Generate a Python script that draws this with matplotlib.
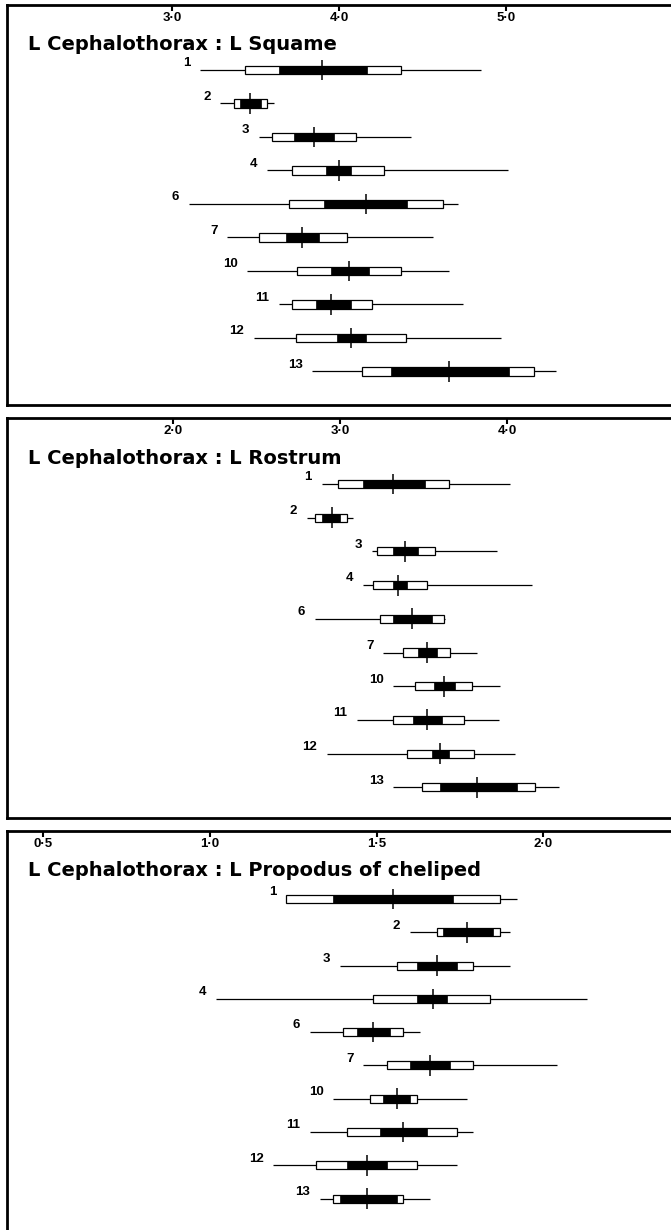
import matplotlib
matplotlib.use('Agg')
from matplotlib import pyplot as plt

# sample numbers (rows of each panel)
samples = ['1', '2', '3', '4', '6', '7', '10', '11', '12', '13']

# --- L Cephalothorax : L Squame ---
sq_lo     = [3.17, 3.29, 3.52, 3.57, 3.10, 3.33, 3.45, 3.64, 3.49, 3.84]
sq_box_lo = [3.44, 3.37, 3.60, 3.72, 3.70, 3.52, 3.75, 3.72, 3.74, 4.14]
sq_blk_lo = [3.64, 3.41, 3.73, 3.92, 3.91, 3.68, 3.95, 3.86, 3.99, 4.31]
sq_mean   = [3.90, 3.47, 3.85, 4.00, 4.16, 3.78, 4.06, 3.95, 4.07, 4.66]
sq_blk_hi = [4.17, 3.53, 3.97, 4.07, 4.41, 3.88, 4.18, 4.07, 4.16, 5.02]
sq_box_hi = [4.37, 3.57, 4.10, 4.27, 4.62, 4.05, 4.37, 4.20, 4.40, 5.17]
sq_hi     = [4.85, 3.61, 4.43, 5.01, 4.71, 4.56, 4.66, 4.74, 4.97, 5.30]

# --- L Cephalothorax : L Rostrum ---
ro_lo     = [2.89, 2.80, 3.19, 3.14, 2.85, 3.26, 3.32, 3.10, 2.92, 3.32]
ro_box_lo = [2.99, 2.85, 3.22, 3.20, 3.24, 3.38, 3.45, 3.32, 3.40, 3.49]
ro_blk_lo = [3.14, 2.89, 3.32, 3.32, 3.32, 3.47, 3.56, 3.44, 3.55, 3.60]
ro_mean   = [3.32, 2.95, 3.39, 3.35, 3.43, 3.52, 3.62, 3.52, 3.60, 3.82]
ro_blk_hi = [3.51, 3.00, 3.47, 3.40, 3.55, 3.58, 3.69, 3.61, 3.65, 4.06]
ro_box_hi = [3.65, 3.04, 3.57, 3.52, 3.62, 3.66, 3.79, 3.74, 3.80, 4.17]
ro_hi     = [4.02, 3.08, 3.94, 4.15, 3.63, 3.82, 3.96, 3.95, 4.05, 4.31]

# --- L Cephalothorax : L Propodus of cheliped ---
pr_lo     = [1.23, 1.60, 1.39, 1.02, 1.30, 1.46, 1.37, 1.30, 1.19, 1.33]
pr_box_lo = [1.23, 1.68, 1.56, 1.49, 1.40, 1.53, 1.48, 1.41, 1.32, 1.37]
pr_blk_lo = [1.37, 1.70, 1.62, 1.62, 1.44, 1.60, 1.52, 1.51, 1.41, 1.39]
pr_mean   = [1.55, 1.77, 1.68, 1.67, 1.49, 1.66, 1.56, 1.58, 1.47, 1.47]
pr_blk_hi = [1.73, 1.85, 1.74, 1.71, 1.54, 1.72, 1.60, 1.65, 1.53, 1.56]
pr_box_hi = [1.87, 1.87, 1.79, 1.84, 1.58, 1.79, 1.62, 1.74, 1.62, 1.58]
pr_hi     = [1.92, 1.90, 1.90, 2.13, 1.63, 2.04, 1.77, 1.79, 1.74, 1.66]

sq_ticks = [3.0, 4.0, 5.0]
ro_ticks = [2.0, 3.0, 4.0]
pr_ticks = [0.5, 1.0, 1.5, 2.0]
sq_ticklabels = ['3·0', '4·0', '5·0']
ro_ticklabels = ['2·0', '3·0', '4·0']
pr_ticklabels = ['0·5', '1·0', '1·5', '2·0']

NARROW = ['Liberation Sans', 'DejaVu Sans']
W, H = 671, 1230

fig = plt.figure(figsize=(W / 100, H / 100), dpi=100)
fig.patch.set_facecolor('white')

def panel(top, bottom, xlim, ylim, title, ticks, ticklabels,
          lo, box_lo, blk_lo, mean, blk_hi, box_hi, hi):
    ax = fig.add_axes([7 / W, 1 - bottom / H, (682 - 7) / W, (bottom - top) / H])
    rows = list(range(len(samples)))
    ax.hlines(rows, lo, hi, color='black', lw=0.9, zorder=1)
    ax.barh(rows, [b - a for a, b in zip(box_lo, box_hi)], left=box_lo, height=0.24,
            facecolor='white', edgecolor='black', lw=0.9, zorder=2)
    ax.barh(rows, [b - a for a, b in zip(blk_lo, blk_hi)], left=blk_lo, height=0.24,
            facecolor='black', edgecolor='black', lw=0.5, zorder=3)
    ax.vlines(mean, [r - 0.31 for r in rows], [r + 0.31 for r in rows],
              color='black', lw=1.1, zorder=4)
    for r, s, x in zip(rows, samples, lo):
        ax.annotate(s, (x, r), xytext=(-7, 0.5), textcoords='offset points',
                    ha='right', va='bottom', fontsize=9.5, fontweight='bold',
                    family=NARROW)
    ax.text(0.031, 1 - 40 / (bottom - top), title, transform=ax.transAxes,
            ha='left', va='center', fontsize=14, fontweight='bold', family='DejaVu Sans')
    ax.set_xlim(*xlim)
    ax.set_ylim(*ylim)
    ax.xaxis.tick_top()
    ax.set_xticks(ticks)
    ax.set_xticklabels(ticklabels, family=NARROW, fontweight='bold', fontsize=9.5)
    ax.tick_params(axis='x', direction='in', length=4, width=1.5, pad=-13.5)
    ax.set_yticks([])
    for side in ['top', 'left', 'bottom']:
        ax.spines[side].set_linewidth(2)
    ax.spines['right'].set_visible(False)
    return ax

panel(5, 405, (2.012, 6.054), (10.0, -1.94), 'L Cephalothorax : L Squame',
      sq_ticks, sq_ticklabels,
      sq_lo, sq_box_lo, sq_blk_lo, sq_mean, sq_blk_hi, sq_box_hi, sq_hi)
panel(418, 818, (1.006, 5.048), (9.91, -1.96), 'L Cephalothorax : L Rostrum',
      ro_ticks, ro_ticklabels,
      ro_lo, ro_box_lo, ro_blk_lo, ro_mean, ro_blk_hi, ro_box_hi, ro_hi)
panel(831, 1240, (0.392, 2.416), (10.24, -2.04), 'L Cephalothorax : L Propodus of cheliped',
      pr_ticks, pr_ticklabels,
      pr_lo, pr_box_lo, pr_blk_lo, pr_mean, pr_blk_hi, pr_box_hi, pr_hi)

fig.savefig('out.png', dpi=100, facecolor='white')
